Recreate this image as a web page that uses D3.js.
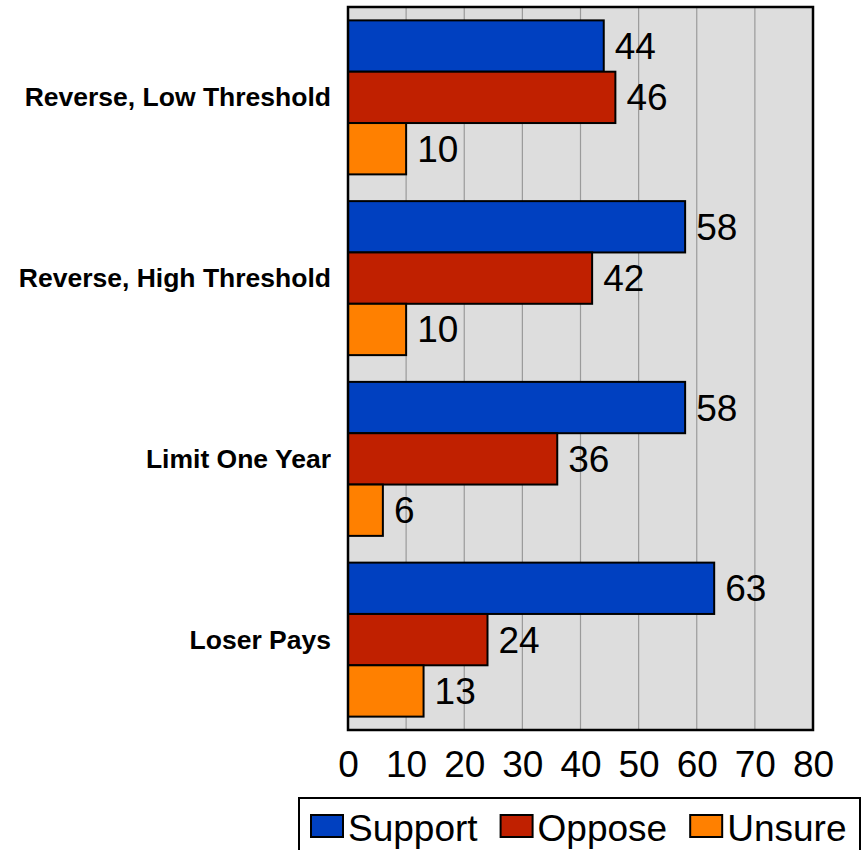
<!DOCTYPE html>
<html>
<head>
<meta charset="utf-8">
<script src="https://cdn.jsdelivr.net/npm/d3@7"></script>
<style>
  body { margin: 0; background: #fff; }
  text { font-family: "Liberation Sans", Arial, sans-serif; }
</style>
</head>
<body>
<svg width="867" height="850"></svg>
<script>
// data
var categories = ["Reverse, Low Threshold", "Reverse, High Threshold", "Limit One Year", "Loser Pays"];
var seriesNames = ["Support", "Oppose", "Unsure"];
var support = [44, 58, 58, 63];
var oppose = [46, 42, 36, 24];
var unsure = [10, 10, 6, 13];
var xTicks = [0, 10, 20, 30, 40, 50, 60, 70, 80];

var colors = ["#0040C0", "#C02000", "#FF8000"];

var svg = d3.select("svg");

var plot = { left: 348, right: 813, top: 7, bottom: 730 };

var rows = categories.map(function (c, i) {
    return { cat: c, values: [support[i], oppose[i], unsure[i]] };
});

var x = d3.scaleLinear().domain([0, 80]).range([plot.left, plot.right]);

var y = d3.scaleBand()
    .domain(categories)
    .range([plot.top, plot.bottom])
    .paddingInner(0.148)
    .paddingOuter(0.074);

var y1 = d3.scaleBand()
    .domain(seriesNames)
    .range([0, y.bandwidth()]);

// plot background
svg.append("rect")
    .attr("x", plot.left)
    .attr("y", plot.top)
    .attr("width", plot.right - plot.left)
    .attr("height", plot.bottom - plot.top)
    .attr("fill", "#DDDDDD");

// vertical gridlines
svg.append("g")
    .selectAll("line")
    .data(xTicks.slice(1, -1))
    .enter().append("line")
    .attr("x1", function (d) { return x(d); })
    .attr("x2", function (d) { return x(d); })
    .attr("y1", plot.top)
    .attr("y2", plot.bottom)
    .attr("stroke", "#9a9a9a")
    .attr("stroke-width", 1.2);

// bars
var group = svg.selectAll(".cat")
    .data(rows)
    .enter().append("g")
    .attr("class", "cat")
    .attr("transform", function (d) { return "translate(0," + y(d.cat) + ")"; });

group.selectAll("rect")
    .data(function (d) { return d.values.map(function (v, j) { return { name: seriesNames[j], value: v, idx: j }; }); })
    .enter().append("rect")
    .attr("x", x(0))
    .attr("y", function (d) { return y1(d.name); })
    .attr("width", function (d) { return x(d.value) - x(0); })
    .attr("height", y1.bandwidth())
    .attr("fill", function (d) { return colors[d.idx]; })
    .attr("stroke", "#000")
    .attr("stroke-width", 2);

// value labels
group.selectAll(".val")
    .data(function (d) { return d.values.map(function (v, j) { return { name: seriesNames[j], value: v }; }); })
    .enter().append("text")
    .attr("class", "val")
    .attr("x", function (d) { return x(d.value) + 11; })
    .attr("y", function (d) { return y1(d.name) + y1.bandwidth() / 2 + 13; })
    .attr("font-size", 37)
    .attr("fill", "#000")
    .text(function (d) { return d.value; });

// plot border
svg.append("rect")
    .attr("x", plot.left)
    .attr("y", plot.top)
    .attr("width", plot.right - plot.left)
    .attr("height", plot.bottom - plot.top)
    .attr("fill", "none")
    .attr("stroke", "#000")
    .attr("stroke-width", 2.5);

// category labels
svg.append("g")
    .selectAll("text")
    .data(categories)
    .enter().append("text")
    .attr("x", 331)
    .attr("y", function (d) { return y(d) + y.bandwidth() / 2 + 9; })
    .attr("text-anchor", "end")
    .attr("font-size", 26.5)
    .attr("font-weight", "bold")
    .text(function (d) { return d; });

// x axis
var xAxis = svg.append("g")
    .attr("transform", "translate(0," + plot.bottom + ")")
    .call(d3.axisBottom(x).tickValues(xTicks).tickSize(0).tickFormat(d3.format("d")));
xAxis.select(".domain").remove();
xAxis.selectAll("text")
    .attr("dy", null)
    .attr("y", 46.5)
    .attr("font-size", 37)
    .attr("font-family", "Liberation Sans, Arial, sans-serif")
    .attr("fill", "#000");

// legend (box runs off the bottom edge like the original)
var legend = svg.append("g");
legend.append("rect")
    .attr("x", 299)
    .attr("y", 798)
    .attr("width", 561)
    .attr("height", 70)
    .attr("fill", "#fff")
    .attr("stroke", "#000")
    .attr("stroke-width", 2);

var lx = 311;
seriesNames.forEach(function (name, i) {
    legend.append("rect")
        .attr("x", lx)
        .attr("y", 815)
        .attr("width", 32)
        .attr("height", 22)
        .attr("fill", colors[i])
        .attr("stroke", "#000")
        .attr("stroke-width", 2);
    var t = legend.append("text")
        .attr("x", lx + 37)
        .attr("y", 841)
        .attr("font-size", 37)
        .text(name);
    lx = lx + 37 + t.node().getComputedTextLength() + 23;
});
</script>
</body>
</html>
